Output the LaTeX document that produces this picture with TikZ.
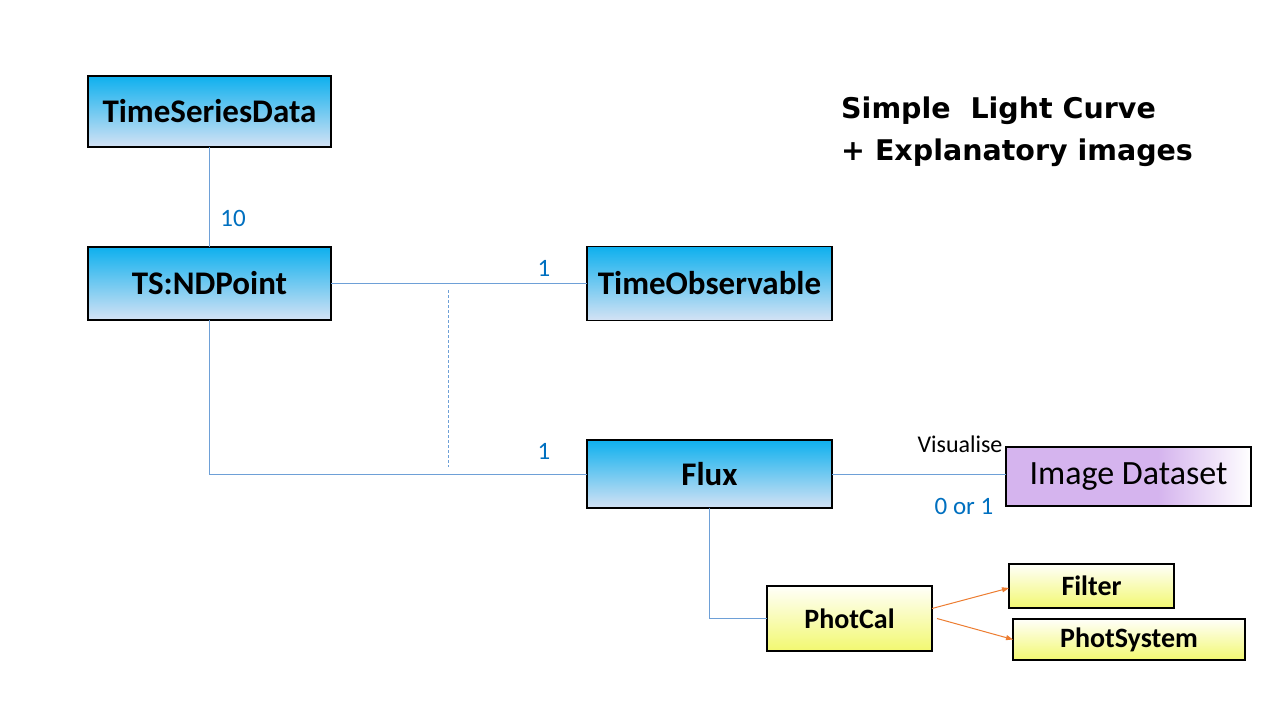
\documentclass[tikz,border=0pt]{standalone}
\usepackage{fontspec}
\setmainfont{Carlito}
\newfontfamily\titlefont{DejaVu Sans}
\usetikzlibrary{arrows.meta}
\definecolor{btop}{RGB}{14,176,238}
\definecolor{bbot}{RGB}{212,226,244}
\definecolor{ytop}{RGB}{255,255,250}
\definecolor{ybot}{RGB}{242,248,112}
\definecolor{purp}{RGB}{213,180,238}
\definecolor{conncol}{RGB}{110,160,215}
\definecolor{labcol}{RGB}{0,112,192}
\definecolor{orng}{RGB}{237,125,49}
\pgfdeclarehorizontalshading{imgshade}{100bp}{color(0bp)=(purp); color(56bp)=(purp); color(75bp)=(white); color(100bp)=(white)}
\tikzset{
  box/.style={draw=black, line width=1.2pt, inner sep=0pt, outer sep=0pt, align=center},
  bluebox/.style={box, top color=btop, bottom color=bbot, font=\fontsize{33}{36}\selectfont\bfseries},
  yelbox/.style={box, top color=ytop, bottom color=ybot, font=\fontsize{28}{30}\selectfont\bfseries},
  imgbox/.style={box, shading=imgshade, font=\fontsize{34}{36}\selectfont},
  conn/.style={draw=conncol, line width=1pt},
  oarrow/.style={draw=orng, line width=1pt, -{Triangle[length=7pt,width=5pt]}},
  lab/.style={text=labcol, font=\fontsize{25}{27}\selectfont, inner sep=0pt},
  title/.style={font=\titlefont\bfseries\fontsize{28.5}{30}\selectfont, inner sep=0pt, anchor=base west}
}
\begin{document}
\begin{tikzpicture}[x=1pt,y=-1pt]
\useasboundingbox[fill=white] (0,0) rectangle (1280,720);
\node[bluebox, minimum width=243pt, minimum height=71pt] (tsd) at (209.5,111.5) {TimeSeriesData};
\node[bluebox, minimum width=243pt, minimum height=73pt] (tsn) at (209.5,283.5) {TS:NDPoint};
\node[bluebox, minimum width=245pt, minimum height=74pt] (tob) at (709.5,283.5) {TimeObservable};
\node[bluebox, minimum width=245pt, minimum height=68pt] (flux) at (709.5,474) {Flux};
\node[imgbox, minimum width=245pt, minimum height=59pt] (img) at (1128.5,476.5) {Image Dataset};
\node[yelbox, minimum width=165pt, minimum height=65pt] (pc) at (849.5,618.5) {PhotCal};
\node[yelbox, minimum width=165pt, minimum height=44pt] (flt) at (1091.5,586) {Filter};
\node[yelbox, minimum width=232pt, minimum height=41pt] (ps) at (1129,639.5) {PhotSystem};
\draw[conn] (tsd.south) -- (tsn.north);
\draw[conn] (tsn.east) -- (tob.west);
\draw[conn] (tsn.south) |- (flux.west);
\coordinate (d1) at (448,290);
\coordinate (d2) at (448,467);
\draw[conn, dashed, dash pattern=on 3pt off 2pt] (d1) -- (d2);
\draw[conn] (flux.east) -- (flux.east -| img.west);
\draw[conn] (flux.south) |- (pc.west);
\draw[oarrow] ([yshift=10pt]pc.east) -- ([yshift=-2pt]flt.west);
\draw[oarrow] ([xshift=5pt]pc.east) -- (ps.west);
\node[lab] (l10) at (233,218) {10};
\node[lab] (l1a) at (544,268) {1};
\node[lab] (l1b) at (544,451) {1};
\node[lab] (l01) at (964,506) {0 or 1};
\node[font=\fontsize{24}{26}\selectfont, inner sep=0pt] (vis) at (960,444) {Visualise};
\node[title] (t1) at (841,118) {Simple\ \ Light Curve};
\node[title] (t2) at (841,160) {+ Explanatory images};
\end{tikzpicture}
\end{document}
